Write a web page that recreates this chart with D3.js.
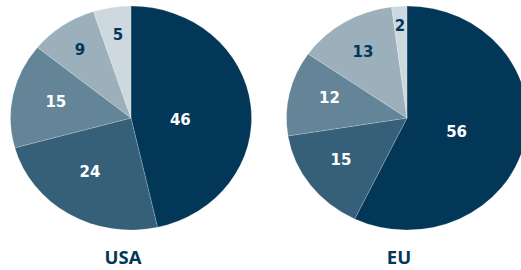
<!DOCTYPE html>
<html>
<head>
<meta charset="utf-8">
<script src="https://cdn.jsdelivr.net/npm/d3@7"></script>
<style>
  body { margin: 0; background: #fff; }
  svg { display: block; }
</style>
</head>
<body>
<div id="chart"></div>
<script>
// データ
const regions = ['USA', 'EU'];
const usaValues = [46, 24, 15, 9, 5];
const euValues = [56, 15, 12, 13, 2];
const sliceColors = ['#033758', '#36607a', '#638597', '#9cb0bc', '#cdd8df'];
const labelColors = ['#fff', '#fff', '#fff', '#033758', '#033758'];

const width = 521, height = 270;
const svg = d3.select('#chart').append('svg')
    .attr('width', width)
    .attr('height', height);

// pies are slightly wider than tall in the reference
const ry = 112, sx = 1.076;
const centers = [131, 407];
const cy = 118;
// label placement: distance (fraction of radius) and angle nudge (degrees)
const labelFrac = [[0.41, 0.59, 0.64, 0.74, 0.75], [0.43, 0.66, 0.67, 0.70, 0.83]];
const labelTurn = [[8.9, 4.3, 1.1, -0.4, 0.8], [3.9, 2.9, 3.3, -0.2, -0.3]];

const pie = d3.pie().sort(null);
const arc = d3.arc().innerRadius(0).outerRadius(ry);

[usaValues, euValues].forEach((vals, i) => {
    const arcs = pie(vals);
    const g = svg.append('g')
        .attr('transform', `translate(${centers[i]},${cy}) scale(${sx},1)`);
    g.selectAll('path')
        .data(arcs)
        .enter()
        .append('path')
        .attr('d', arc)
        .attr('fill', (d, j) => sliceColors[j])
        .attr('stroke', '#fff')
        .attr('stroke-opacity', 0.3)
        .attr('stroke-width', 0.6);

    const pos = (d, j) => {
        const a = (d.startAngle + d.endAngle) / 2 + labelTurn[i][j] * Math.PI / 180;
        const r = ry * labelFrac[i][j];
        return [Math.sin(a) * r * sx, -Math.cos(a) * r];
    };

    const lg = svg.append('g')
        .attr('transform', `translate(${centers[i]},${cy})`);
    lg.selectAll('text')
        .data(arcs)
        .enter()
        .append('text')
        .attr('x', (d, j) => pos(d, j)[0])
        .attr('y', (d, j) => pos(d, j)[1])
        .attr('dy', '0.36em')
        .attr('text-anchor', 'middle')
        .attr('fill', (d, j) => labelColors[j])
        .attr('font-family', '"DejaVu Sans", sans-serif')
        .attr('font-weight', 700)
        .attr('font-size', '15px')
        .text(d => d.data);

    svg.append('text')
        .attr('x', centers[i] - 8)
        .attr('y', 264)
        .attr('text-anchor', 'middle')
        .attr('fill', '#033758')
        .attr('font-family', '"Open Sans", sans-serif')
        .attr('font-weight', 700)
        .attr('font-size', '18.5px')
        .text(regions[i]);
});
</script>
</body>
</html>
